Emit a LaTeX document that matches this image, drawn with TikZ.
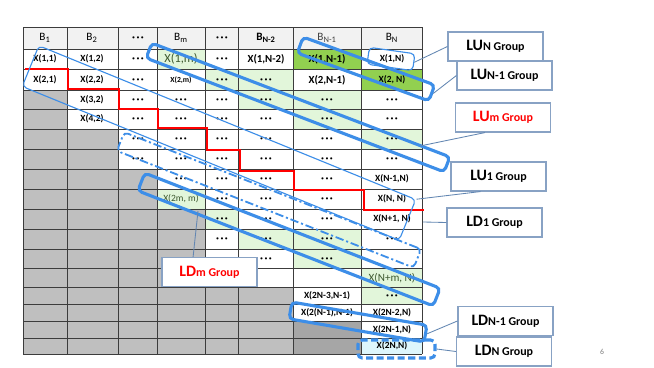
\documentclass[tikz,border=0pt]{standalone}
\usepackage{fontspec}
\setmainfont{Carlito}
\usetikzlibrary{positioning}
\definecolor{bandblue}{RGB}{61,142,232}
\definecolor{linkblue}{RGB}{98,134,178}
\definecolor{boxline}{RGB}{136,162,196}
\definecolor{hdrgray}{RGB}{242,242,242}
\definecolor{cellgray}{RGB}{191,191,191}
\definecolor{darkcell}{RGB}{166,166,166}
\definecolor{keygreen}{RGB}{146,208,80}
\definecolor{palegreen}{RGB}{226,246,218}
\definecolor{palecyan}{RGB}{221,246,252}
\definecolor{textgreen}{RGB}{60,88,46}
\definecolor{gridline}{RGB}{60,60,60}
\newcommand{\dts}{•\hspace{1pt}•\hspace{1pt}•}
\newcommand{\grptxt}[2]{{\fontsize{11.3}{12}\bfseries #1}{\fontsize{8.5}{9}\bfseries #2}}
\tikzset{
  cell/.style={inner sep=0pt, font=\fontsize{6.7}{7}\bfseries},
  bigcell/.style={inner sep=0pt, font=\fontsize{7.7}{8}\bfseries},
  keycell/.style={inner sep=0pt, text=textgreen},
  hdr/.style={inner sep=0pt, font=\fontsize{8}{9}\selectfont},
  dotcell/.style={inner sep=0pt, font=\fontsize{4.2}{5}\selectfont},
  thickband/.style={draw=bandblue, line width=2.2pt, rounded corners=3pt, inner sep=0pt},
  thinband/.style={draw=bandblue, line width=0.8pt, rounded corners=3pt, inner sep=0pt},
  grp/.style={draw=boxline, fill=white, line width=0.8pt, minimum width=2.375cm,
              minimum height=0.725cm, inner sep=0pt},
  lnk/.style={draw=linkblue, line width=0.6pt},
  stair/.style={draw=red, line width=1.4pt}
}
\begin{document}
\begin{tikzpicture}[x=0.025cm, y=-0.025cm]
\fill[white] (0,0) rectangle (654,368);
\useasboundingbox (0,0) rectangle (654,368);
% cell fills
\fill[hdrgray] (23,27) rectangle (422,49);
\fill[cellgray] (23,90) rectangle (67,354);
\fill[cellgray] (67,129) rectangle (118,354);
\fill[cellgray] (118,169) rectangle (157,354);
\fill[cellgray] (157,209) rectangle (205,354);
\fill[cellgray] (205,287) rectangle (293,354);
\fill[darkcell] (293,321) rectangle (361,354);
\fill[keygreen] (293,49) rectangle (361,69);
\fill[keygreen] (361,69) rectangle (422,90);
\fill[palegreen] (157,49) rectangle (205,69);
\fill[palegreen] (205,69) rectangle (293,90);
\fill[palegreen] (238,90) rectangle (361,109);
\fill[palegreen] (293,109) rectangle (361,129);
\fill[palegreen] (361,129) rectangle (422,149);
\fill[palegreen] (157,189) rectangle (205,209);
\fill[palegreen] (205,209) rectangle (238,229);
\fill[palegreen] (238,229) rectangle (361,249);
\fill[palegreen] (293,249) rectangle (361,268);
\fill[palegreen] (361,268) rectangle (422,304);
\fill[palecyan] (361,338) rectangle (422,354);
% grid
\foreach \y in {27,49,69,90,109,129,149,169,189,209,229,249,268,287,304,321,338,354}
  \draw[gridline, line width=0.6pt] (23,\y) -- (422,\y);
\foreach \x in {23,67,118,157,205,238,293,361,422}
  \draw[gridline, line width=0.6pt] (\x,27) -- (\x,354);
% header
\node[hdr] (h1) at (45,38) {B\textsubscript{1}};
\node[hdr] (h2) at (92,38) {B\textsubscript{2}};
\node[hdr] (h4) at (181,38) {B\textsubscript{m}};
\node[hdr, font=\fontsize{8}{9}\bfseries] (h6) at (266,38) {B\textsubscript{N-2}};
\node[hdr, text=darkgray] (h7) at (327,38) {B\textsubscript{N-1}};
\node[hdr] (h8) at (392,38) {B\textsubscript{N}};
% entries
\node[cell] (x11) at (45,59) {X(1,1)};
\node[cell] (x12) at (92,59) {X(1,2)};
\node[keycell, font=\fontsize{8.8}{9}\selectfont] (x1m) at (181,59) {X(1,m)};
\node[bigcell] (x1n2) at (266,59) {X(1,N-2)};
\node[bigcell] (x1n1) at (327,59) {X(1,N-1)};
\node[cell] (x1n) at (392,59) {X(1,N)};
\node[cell] (x21) at (45,80) {X(2,1)};
\node[cell] (x22) at (92,80) {X(2,2)};
\node[cell, font=\fontsize{5.5}{6}\bfseries] (x2m) at (181,80) {X(2,m)};
\node[bigcell] (x2n1) at (327,80) {X(2,N-1)};
\node[cell] (x2n) at (392,80) {X(2, N)};
\node[cell] (x32) at (92,100) {X(3,2)};
\node[cell] (x42) at (92,119) {X(4,2)};
\node[cell] (xn1n) at (392,179) {X(N-1,N)};
\node[keycell, font=\fontsize{6.8}{7}\selectfont] (x2mm) at (181,199) {X(2m, m)};
\node[cell] (xnn) at (392,199) {X(N, N)};
\node[cell] (xnp1) at (392,219) {X(N+1, N)};
\node[keycell, font=\fontsize{7.9}{8}\selectfont] (xnm) at (392,278) {X(N+m, N)};
\node[cell] (x2n3) at (327,296) {X(2N-3,N-1)};
\node[cell] (x2nm1) at (327,313) {X(2(N-1),N-1)};
\node[cell] (x2n2) at (392,313) {X(2N-2,N)};
\node[cell] (x2nb) at (392,330) {X(2N-1,N)};
\node[cell] (x2nn) at (392,346) {X(2N,N)};
\foreach \x/\y [count=\k] in {138/38,222/38,138/59,222/59,138/80,222/80,266/80,
    138/100,181/100,222/100,266/100,327/100,392/100,
    138/119,181/119,222/119,266/119,327/119,392/119,
    138/139,181/139,222/139,266/139,327/139,392/139,
    138/159,181/159,222/159,266/159,327/159,392/159,
    181/179,222/179,266/179,327/179,222/199,266/199,327/199,
    222/219,266/219,327/219,222/239,266/239,327/239,392/239,
    266/259,327/259,392/296}
  \node[dotcell] (dt\k) at (\x,\y) {\dts};
% red boundary
\draw[stair] (25,69) -- (68,69) -- (68,89) -- (119,89) -- (119,109) -- (158,109)
  -- (158,128) -- (207,128) -- (207,150) -- (240,150) -- (240,171) -- (294,171)
  -- (294,190) -- (364,190) -- (364,210) -- (424,210);
% groups
\node[thinband, minimum width=1.15cm, minimum height=0.425cm, rotate=-8] (lun) at (391,59) {};
\node[thickband, minimum width=3.5cm, minimum height=0.425cm, rotate=-20] (lun1) at (366,69) {};
\node[thickband, minimum width=7.975cm, minimum height=0.4cm, rotate=-20.9] (lum) at (298,107.5) {};
\node[thinband, minimum width=10.175cm, minimum height=1.1cm, rotate=-22.2] (lu1) at (219,143) {};
\node[draw=bandblue, line width=1.3pt, dash pattern=on 6pt off 2pt on 1.5pt off 2pt,
      rounded corners=3pt, inner sep=0pt, minimum width=7.975cm, minimum height=0.5cm,
      rotate=-21.5] (ld1) at (269,200) {};
\node[thickband, minimum width=7.925cm, minimum height=0.475cm, rotate=-21.3] (ldm) at (289,239.5) {};
\node[thickband, minimum width=3.425cm, minimum height=0.425cm, rotate=-9.7] (ldn1) at (358,322) {};
\node[thickband, dash pattern=on 5pt off 2.5pt, minimum width=1.925cm, minimum height=0.45cm] (ldn) at (396.5,349) {};
% connectors
\coordinate (lumtip) at (420,146);
\coordinate (ld1tip) at (423,222);
\coordinate (ldmtip) at (198,211);
\node[grp] (lunlbl) at (495.5,46.5) {\grptxt{LU}{N Group}};
\node[grp] (lun1lbl) at (504.5,75.5) {\grptxt{LU}{N-1 Group}};
\node[grp, text=red] (lumlbl) at (503,117.5) {\grptxt{LU}{m Group}};
\node[grp] (lu1lbl) at (498.5,176.5) {\grptxt{LU}{1 Group}};
\node[grp] (ld1lbl) at (494.5,222.5) {\grptxt{LD}{1 Group}};
\node[grp, text=red] (ldmlbl) at (209.5,272) {\grptxt{LD}{m Group}};
\node[grp] (ldn1lbl) at (505.5,321) {\grptxt{LD}{N-1 Group}};
\node[grp] (ldnlbl) at (504,351.5) {\grptxt{LD}{N Group}};
\draw[lnk] (lun.east) -- (lunlbl.west);
\draw[lnk] (lun1.east) -- (lun1lbl.west);
\draw[lnk] (lumtip) -- ([xshift=-0.45cm]lumlbl.south);
\draw[lnk] (lu1.north east) -- ([xshift=-0.45cm]lu1lbl.south);
\draw[lnk] (ld1tip) -- (ld1lbl.west);
\draw[lnk] (ldmtip) -- ([xshift=-0.41cm]ldmlbl.north);
\draw[lnk] (ldn1.east) -- (ldn1lbl.west);
\draw[lnk] (ldn.east) -- (ldnlbl.west);
\node[font=\fontsize{5.5}{6}\selectfont, text=gray] (pg) at (602,352) {6};
\end{tikzpicture}
\end{document}
